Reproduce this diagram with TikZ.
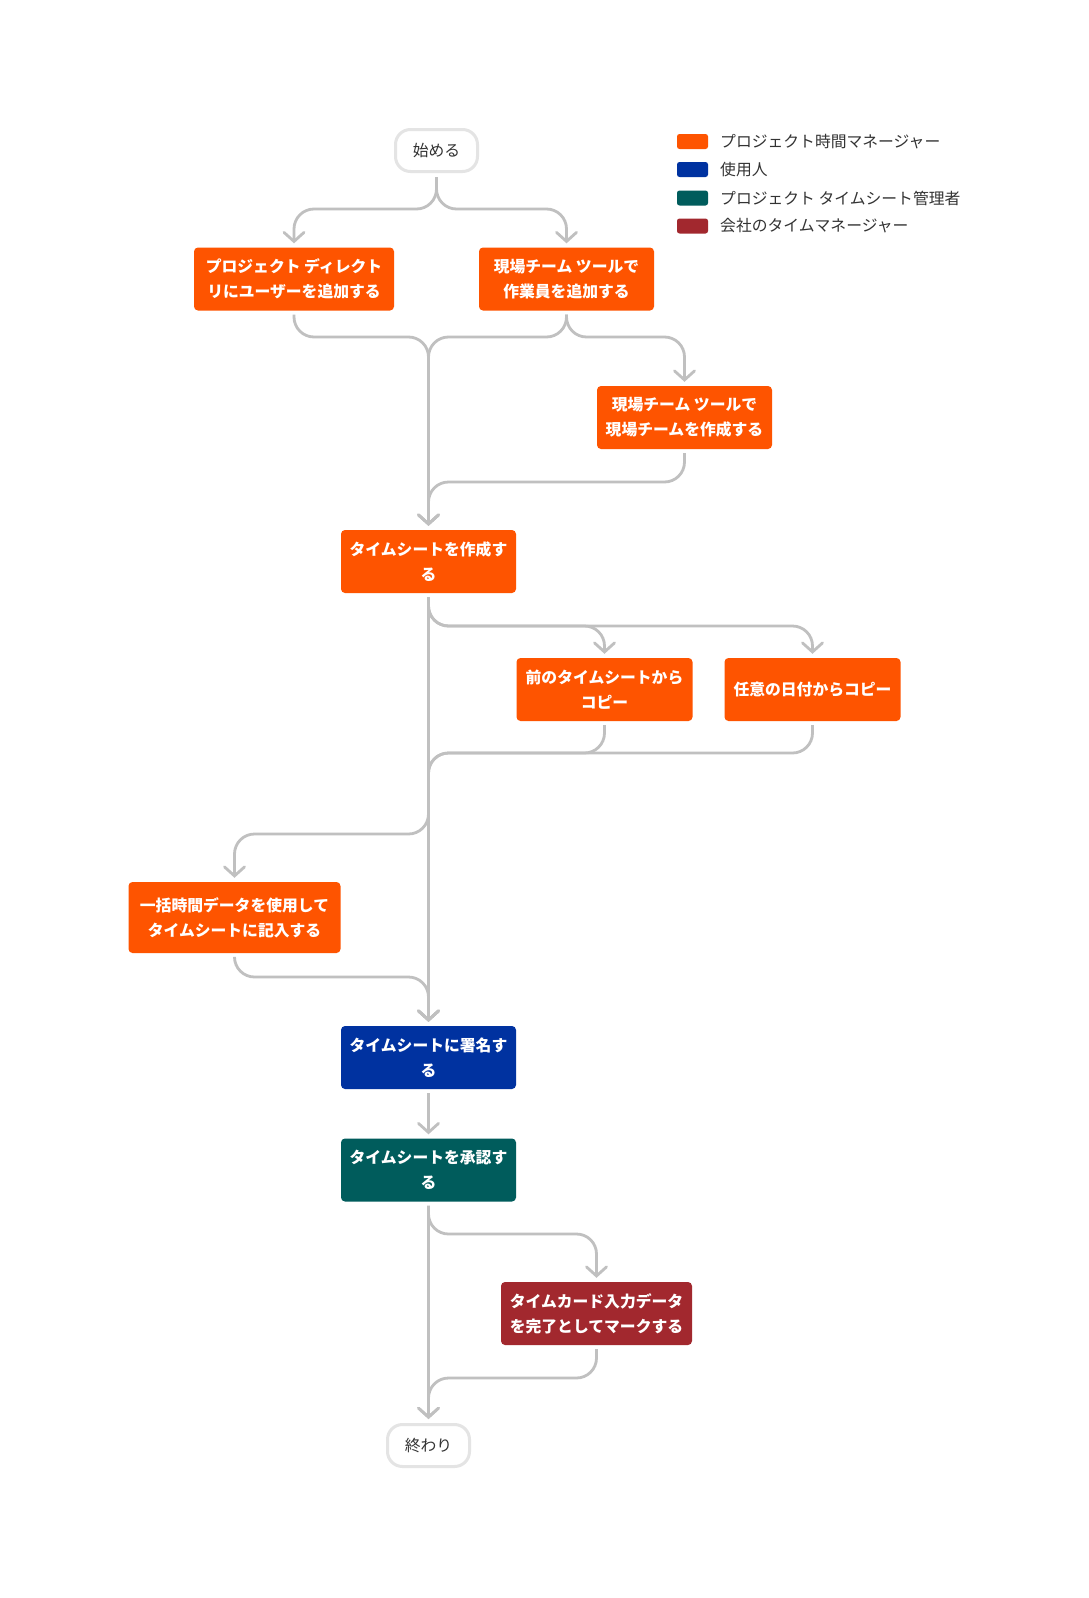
\documentclass[tikz,border=0pt]{standalone}
\usepackage{fontspec}
\setmainfont{Noto Sans CJK JP}
\usetikzlibrary{arrows.meta}
\definecolor{cOr}{RGB}{254,84,0}
\definecolor{cBl}{RGB}{0,50,160}
\definecolor{cTe}{RGB}{0,92,92}
\definecolor{cRd}{RGB}{162,40,46}
\definecolor{cEd}{RGB}{192,192,192}
\definecolor{cTx}{RGB}{51,51,51}
\definecolor{cTerm}{RGB}{228,228,228}
\begin{document}
\begin{tikzpicture}[x=1pt,y=-1pt,
  box/.style={rounded corners=4pt, text=white, font=\fontsize{15.8}{25}\selectfont\bfseries,
    align=center, inner sep=0pt, minimum height=63pt},
  term/.style={draw=cTerm, line width=3pt, fill=white, rounded corners=15pt,
    minimum width=82pt, minimum height=42pt, inner sep=0pt,
    font=\fontsize{15.8}{18}\selectfont, text=cTx},
  swatch/.style={rounded corners=2.5pt, minimum width=31pt, minimum height=15pt, inner sep=0pt},
  legtext/.style={anchor=west, inner sep=0pt, font=\fontsize{15.8}{18}\selectfont, text=cTx},
  conn/.style={draw=cEd, line width=2.8pt, rounded corners=20pt,
    -{Straight Barb[length=9pt,width=20pt,line cap=round]},
    shorten <=4pt, shorten >=4pt}]
\useasboundingbox (0,0) rectangle (1088,1598);
\fill[white] (0,0) rectangle (1088,1598);

% legend
\node[swatch, fill=cOr] (k1) at (692.5,141.5) {};
\node[swatch, fill=cBl] (k2) at (692.5,169.5) {};
\node[swatch, fill=cTe] (k3) at (692.5,198) {};
\node[swatch, fill=cRd] (k4) at (692.5,226) {};
\node[legtext] (t1) at (720,141.5) {プロジェクト時間マネージャー};
\node[legtext] (t2) at (720,169.5) {使用人};
\node[legtext] (t3) at (720,198) {プロジェクト タイムシート管理者};
\node[legtext] (t4) at (720,226) {会社のタイムマネージャー};

% nodes
\node[term] (S) at (436.5,150.5) {始める};
\node[box, fill=cOr, minimum width=200pt] (A) at (294,279) {プロジェクト ディレクト\\リにユーザーを追加する};
\node[box, fill=cOr, minimum width=175pt] (B) at (566.5,279) {現場チーム ツールで\\作業員を追加する};
\node[box, fill=cOr, minimum width=175pt] (C) at (684.5,417.5) {現場チーム ツールで\\現場チームを作成する};
\node[box, fill=cOr, minimum width=175pt] (T) at (428.5,561.5) {タイムシートを作成す\\る};
\node[box, fill=cOr, minimum width=176pt] (P) at (604.5,689.5) {前のタイムシートから\\コピー};
\node[box, fill=cOr, minimum width=176pt] (Q) at (812.5,689.5) {任意の日付からコピー};
\node[box, fill=cOr, minimum width=212pt, minimum height=71pt] (G) at (234.5,917.5) {一括時間データを使用して\\タイムシートに記入する};
\node[box, fill=cBl, minimum width=175pt] (N) at (428.5,1057.5) {タイムシートに署名す\\る};
\node[box, fill=cTe, minimum width=175pt] (R) at (428.5,1170) {タイムシートを承認す\\る};
\node[box, fill=cRd, minimum width=191pt] (M) at (596.5,1313.5) {タイムカード入力データ\\を完了としてマークする};
\node[term] (E) at (428.5,1445.5) {終わり};

% connectors
\draw[conn] (S.south) -- (S.south |- 0,209) -| (A.north);
\draw[conn] (S.south) -- (S.south |- 0,209) -| (B.north);
\draw[conn] (A.south) -- (A.south |- 0,337) -| (T.north);
\draw[conn] (B.south) -- (B.south |- 0,337) -| (T.north);
\draw[conn] (B.south) -- (B.south |- 0,337) -| (C.north);
\draw[conn] (C.south) -- (C.south |- 0,482) -| (T.north);
\draw[conn] (T.south) -- (T.south |- 0,626) -| (P.north);
\draw[conn] (T.south) -- (T.south |- 0,626) -| (Q.north);
\draw[conn] (P.south) -- (P.south |- 0,753) -| (N.north);
\draw[conn] (Q.south) -- (Q.south |- 0,753) -| (N.north);
\draw[conn] (T.south) -- (T.south |- 0,834) -| (G.north);
\draw[conn] (T.south) -- (N.north);
\draw[conn] (G.south) -- (G.south |- 0,977) -| (N.north);
\draw[conn] (N.south) -- (R.north);
\draw[conn] (R.south) -- (R.south |- 0,1234) -| (M.north);
\draw[conn] (R.south) -- (E.north);
\draw[conn] (M.south) -- (M.south |- 0,1378) -| (E.north);
\end{tikzpicture}
\end{document}
